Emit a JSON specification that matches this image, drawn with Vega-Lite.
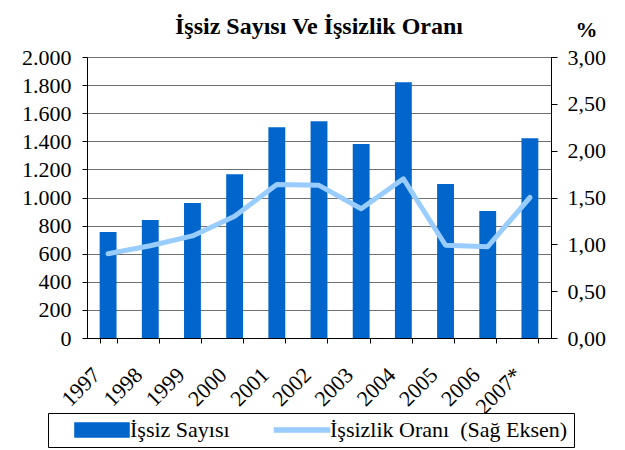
{
  "$schema": "https://vega.github.io/schema/vega-lite/v6.json",
  "width": 464,
  "height": 281,
  "autosize": {"type": "none"},
  "padding": {"left": 87, "top": 57, "right": 74, "bottom": 112},
  "background": "white",
  "title": {"text": "İşsiz Sayısı Ve İşsizlik Oranı", "font": "Liberation Serif", "fontSize": 24, "fontWeight": "bold", "anchor": "middle", "offset": 16, "dy": 37, "color": "black"},
  "data": {"values": [
    {"year": "1997", "count": 755, "rate": 0.90},
    {"year": "1998", "count": 840, "rate": 0.985},
    {"year": "1999", "count": 960, "rate": 1.09},
    {"year": "2000", "count": 1165, "rate": 1.30},
    {"year": "2001", "count": 1500, "rate": 1.64},
    {"year": "2002", "count": 1542, "rate": 1.63},
    {"year": "2003", "count": 1380, "rate": 1.38},
    {"year": "2004", "count": 1820, "rate": 1.70},
    {"year": "2005", "count": 1096, "rate": 0.99},
    {"year": "2006", "count": 904, "rate": 0.975},
    {"year": "2007*", "count": 1422, "rate": 1.50}
  ]},
  "encoding": {
    "x": {"field": "year", "type": "nominal", "sort": null,
      "scale": {"paddingInner": 0.6, "paddingOuter": 0.3},
      "axis": {"title": null, "tickBand": "extent", "tickSize": 5, "labelAngle": -45, "labelAlign": "right", "labelBaseline": "middle", "labelPadding": 28, "labelOffset": -12, "domainColor": "black", "tickColor": "black", "labelFont": "Liberation Serif", "labelFontSize": 22, "labelColor": "black", "grid": false}}
  },
  "layer": [
    {
      "mark": {"type": "bar", "color": "#0066CC"},
      "encoding": {
        "y": {"field": "count", "type": "quantitative", "scale": {"domain": [0, 2000], "nice": false},
          "axis": {"title": null, "orient": "left", "values": [0,200,400,600,800,1000,1200,1400,1600,1800,2000], "labelExpr": "replace(format(datum.value, ',d'), ',', '.')", "grid": true, "gridColor": "#707070", "gridWidth": 1, "tickSize": 5, "labelPadding": 11, "domainColor": "black", "tickColor": "black", "labelFont": "Liberation Serif", "labelFontSize": 22, "labelColor": "black"}},
        "color": {"datum": "İşsiz Sayısı", "type": "nominal",
          "scale": {"domain": ["İşsiz Sayısı", "İşsizlik Oranı \u00a0(Sağ Eksen)"], "range": ["#0066CC", "#99CCFF"]},
          "legend": {"orient": "none", "legendX": -39, "legendY": 356, "direction": "horizontal", "title": null, "strokeColor": "black", "fillColor": "white", "padding": 6, "symbolSize": 196, "symbolOffset": 37, "labelOffset": 17, "columnPadding": 24, "labelFont": "Liberation Serif", "labelFontSize": 22, "labelColor": "black", "labelLimit": 400,
            "encode": {"symbols": {"update": {
              "shape": {"signal": "datum.index == 0 ? 'M-3.86,-1H3.86V1H-3.86Z' : 'M-3.93,-0.3H3.93V0.3H-3.93Z'"},
              "fill": {"scale": "color", "field": "value"},
              "stroke": {"value": "transparent"},
              "opacity": {"value": 1}
            }}}}}
      }
    },
    {
      "mark": {"type": "line", "strokeWidth": 5, "strokeCap": "round", "strokeJoin": "round", "color": "#99CCFF"},
      "encoding": {
        "y": {"field": "rate", "type": "quantitative", "scale": {"domain": [0, 3], "nice": false},
          "axis": {"orient": "right", "values": [0,0.5,1,1.5,2,2.5,3], "labelExpr": "replace(format(datum.value, '.2f'), '.', ',')", "grid": false, "tickSize": 6, "labelPadding": 10, "domainColor": "black", "tickColor": "black", "labelFont": "Liberation Serif", "labelFontSize": 22, "labelColor": "black",
            "title": "%", "titleAngle": 0, "titleX": 35, "titleY": -21, "titleAlign": "center", "titleBaseline": "alphabetic", "titleFont": "Liberation Serif", "titleFontSize": 22, "titleFontWeight": "bold", "titleColor": "black"}},
        "color": {"datum": "İşsizlik Oranı \u00a0(Sağ Eksen)", "type": "nominal"}
      }
    }
  ],
  "resolve": {"scale": {"y": "independent"}},
  "config": {"view": {"stroke": "black", "strokeWidth": 1}}
}
